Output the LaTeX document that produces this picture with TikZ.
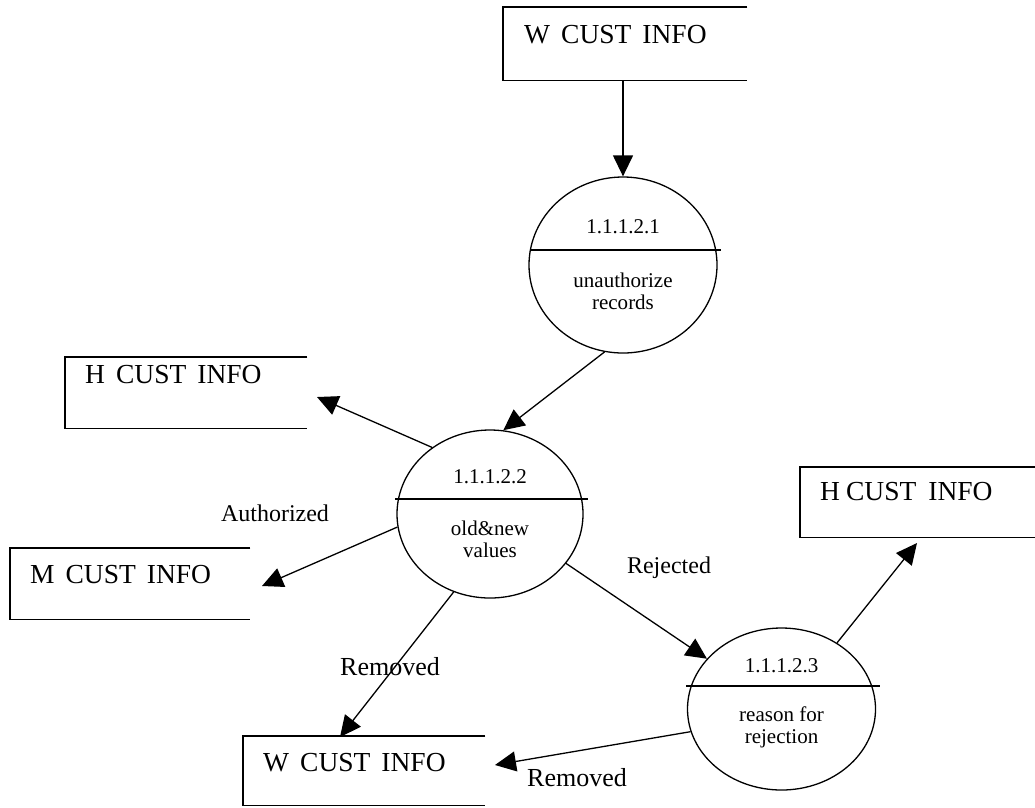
\documentclass[tikz,border=0pt]{standalone}
\usepackage{fontspec}
\setmainfont{Liberation Serif}
\usetikzlibrary{arrows.meta,shapes.geometric,calc}

\begin{document}
\begin{tikzpicture}[x=1pt,y=-1pt,
  storebox/.style={rectangle,draw=none,inner sep=0pt,anchor=north west},
  storeline/.style={line width=1.4pt},
  storetext/.style={anchor=west,inner sep=0pt,font=\fontsize{27.5}{30}\selectfont},
  proc/.style={ellipse,draw,line width=1.3pt,inner sep=0pt},
  divider/.style={line width=1.3pt},
  proctext/.style={inner sep=0pt,font=\fontsize{21}{22}\selectfont,align=center},
  flow/.style={line width=1.3pt,-{Triangle[length=21pt,width=20pt]}},
  flowlabel/.style={inner sep=0pt,font=\fontsize{24}{26}\selectfont},
  removedlabel/.style={inner sep=0pt,font=\fontsize{26}{28}\selectfont}]

\useasboundingbox (0,0) rectangle (1035,807);

% data stores: open on the right side
\node[storebox,minimum width=244pt,minimum height=73pt] (wtop) at (503,7) {};
\node[storebox,minimum width=242pt,minimum height=71pt] (hleft) at (65,357) {};
\node[storebox,minimum width=240pt,minimum height=71pt] (mcust) at (10,548) {};
\node[storebox,minimum width=242pt,minimum height=69pt] (wbot) at (243,736) {};
\node[storebox,minimum width=235pt,minimum height=70pt] (hright) at (800,467) {};
\foreach \s in {wtop,hleft,mcust,wbot,hright}
  \draw[storeline] (\s.north east) -- (\s.north west) -- (\s.south west) -- (\s.south east);

\node[storetext] (wtopt) at ($(wtop.north west)+(21,28)$) {W\hspace{11pt}CUST\hspace{11pt}INFO};
\node[storetext] (hleftt) at ($(hleft.north west)+(20,18)$) {H\hspace{11pt}CUST\hspace{11pt}INFO};
\node[storetext] (mcustt) at ($(mcust.north west)+(20,27)$) {M\hspace{11pt}CUST\hspace{11pt}INFO};
\node[storetext] (wbott) at ($(wbot.north west)+(20,27)$) {W\hspace{11pt}CUST\hspace{11pt}INFO};
\node[storetext] (hrightt) at ($(hright.north west)+(20,25)$) {H\hspace{6pt}CUST\hspace{12pt}INFO};

% processes
\node[proc,minimum width=188pt,minimum height=176pt] (c1) at (623,265) {};
\node[proc,minimum width=186pt,minimum height=168pt] (c2) at (490,514) {};
\node[proc,minimum width=188pt,minimum height=162pt] (c3) at (781.5,709) {};

\draw[divider] ($(c1.center)+(-93,-15)$) -- ($(c1.center)+(98,-15)$);
\draw[divider] ($(c2.center)+(-95,-15)$) -- ($(c2.center)+(98,-15)$);
\draw[divider] ($(c3.center)+(-95.5,-23)$) -- ($(c3.center)+(98.5,-23)$);

\node[proctext] (c1n) at ($(c1.center)+(0,-38)$) {1.1.1.2.1};
\node[proctext] (c1t) at ($(c1.center)+(0,26)$) {unauthorize\\records};
\node[proctext] (c2n) at ($(c2.center)+(0,-37)$) {1.1.1.2.2};
\node[proctext] (c2t) at ($(c2.center)+(0,25)$) {old\&new\\values};
\node[proctext] (c3n) at ($(c3.center)+(0,-43)$) {1.1.1.2.3};
\node[proctext] (c3t) at ($(c3.center)+(0,18)$) {reason for\\rejection};

% free arrow ends in front of the stores
\coordinate (toHleft) at (317,397);
\coordinate (toM) at (262,586);
\coordinate (toWbot) at (340,737);
\coordinate (toHright) at (917,543);
\coordinate (toWbotR) at (495,765);

% data flows
\draw[flow] (c1.north |- wtop.south) -- (c1.north);
\draw[flow] (c1.258.7) -- (c2.81.9);
\draw[flow] (c2.131.7) -- (toHleft);
\draw[flow] (c2.188.6) -- (toM);
\draw[flow] (c2.245.7) -- (toWbot);
\draw[flow] (c2.-33.5) -- (c3.146.5);
\draw[flow] (c3.50.9) -- (toHright);
\draw[flow] (c3.194.2) -- (toWbotR);

% flow labels
\node[flowlabel] (lauth) at (275,513) {Authorized};
\node[flowlabel] (lrej) at (669,568) {Rejected};
\node[removedlabel] (lrem1) at (390,667) {Removed};
\node[removedlabel] (lrem2) at (577,778) {Removed};

\end{tikzpicture}
\end{document}
